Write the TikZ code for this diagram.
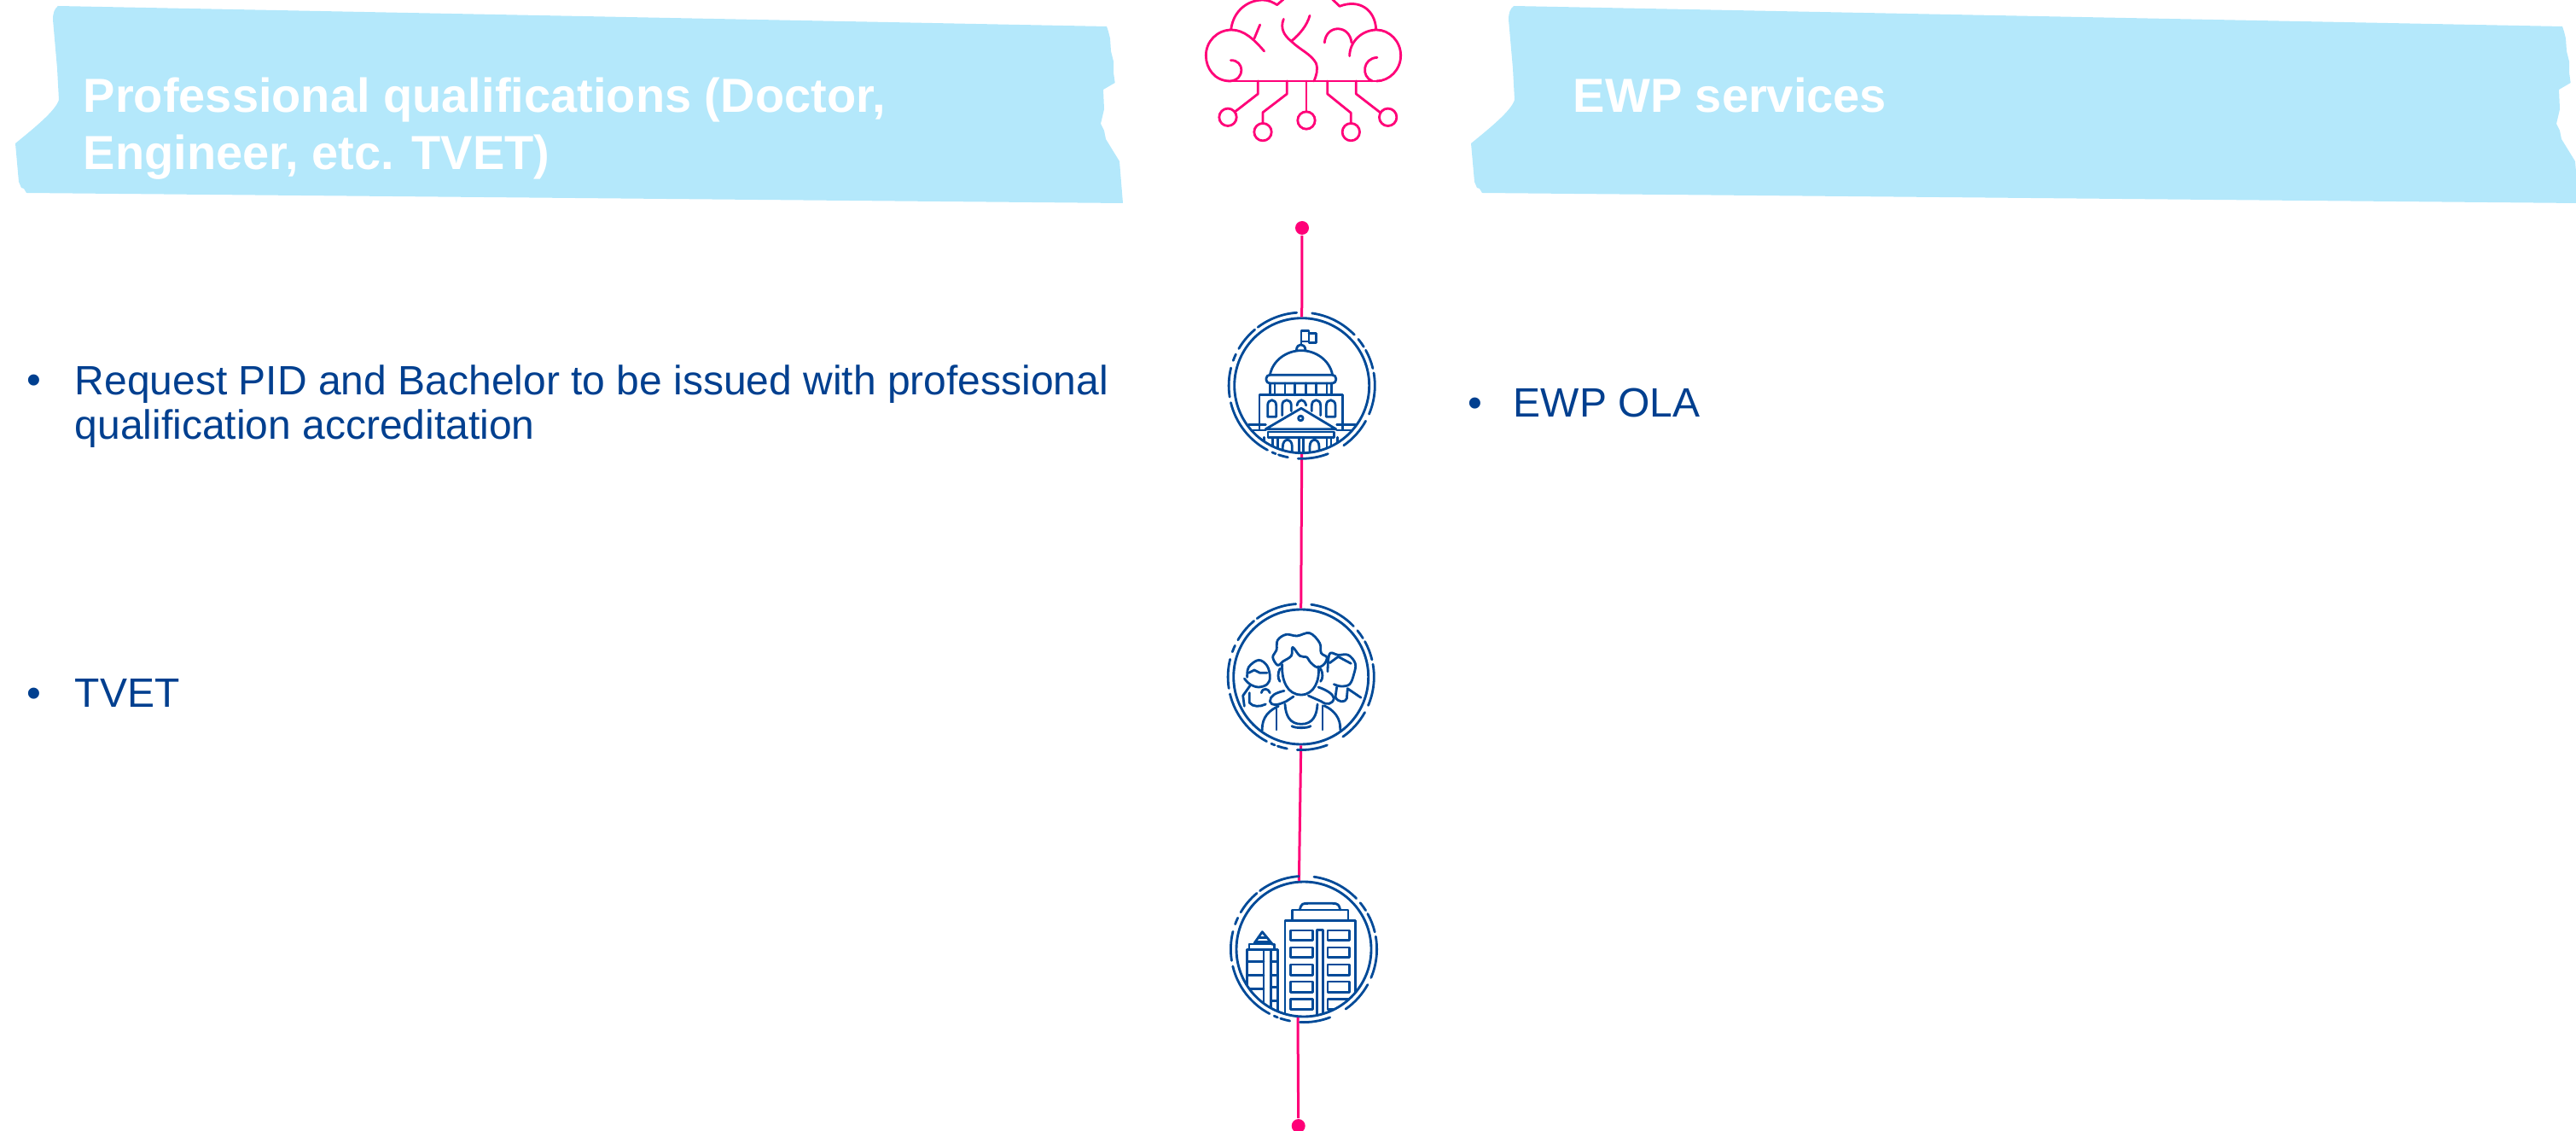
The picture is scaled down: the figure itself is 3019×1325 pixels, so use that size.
\documentclass[tikz,border=0pt]{standalone}
\usepackage{fontspec}
\setmainfont{Liberation Sans}
\definecolor{blob}{HTML}{B4E8FB}
\definecolor{pinkline}{HTML}{FF0078}
\definecolor{navy}{HTML}{004A98}
\definecolor{bodyblue}{HTML}{003F8F}
\tikzset{
  px/.style={x=0.25pt,y=-0.25pt},
  zoomgrid/.style={x=0.083333pt,y=-0.083333pt},
  titletext/.style={text=white,font=\fontsize{14}{16.75}\selectfont\bfseries,anchor=base west,inner sep=0pt,align=left},
  bodytext/.style={text=bodyblue,font=\fontsize{12}{13}\selectfont,anchor=base west,inner sep=0pt,align=left},
  iconcircle/.style={circle,draw=navy,line width=0.72pt,fill=white,minimum size=39.5pt,inner sep=0pt},
  enddot/.style={circle,fill=pinkline,minimum size=4pt,inner sep=0pt},
  timeline/.style={draw=pinkline,line width=0.75pt},
  iconline/.style={draw=navy,line width=0.7pt,line cap=round,line join=round},
  brainline/.style={draw=pinkline,line width=0.7pt,line cap=round,line join=round},
}
\newcommand{\blobpath}{(68,7) -- (1297,31) -- (1299,37) -- (1301,45) -- (1302,60) -- (1305,72) -- (1305,85) -- (1306.7,97) -- (1293,105) -- (1294,128) -- (1290,145) -- (1294,153) -- (1296,163) -- (1312,189) -- (1316,238) -- (31,226) -- (28,221) -- (25,220) -- (22,213) -- (18,168) .. controls (40,150) and (65,130) .. (69,117) -- (67,80) -- (62,23) .. controls (62,15) and (64,10) .. (68,7) -- cycle}
\newcommand{\iconring}[1]{%
  \foreach \a/\b in {82/44,39.4/32,29/13.6,10/-23,-29/-55,-69/-93,-101/-108.6,-111/-114,-118/-166.5,-171/-194,-200/-205.4,-210.3/-230,-233/-266}
    \draw[iconline] (#1) ++(\a:21.4pt) arc[start angle=\a,end angle=\b,radius=21.4pt];%
}
\begin{document}
\begin{tikzpicture}[px]
\useasboundingbox (0,0) rectangle (3019,1325);
\begin{scope}
\clip (0,0) rectangle (3019,1325);
\fill[blob] \blobpath;
\fill[blob,shift={(1706,0)}] \blobpath;

% brain
\begin{scope}[shift={(1380,0)},zoomgrid]
\draw[brainline] (185,285) .. controls (130,285) and (100,240) .. (100,195) .. controls (100,145) and (140,105) .. (190,105) .. controls (235,105) and (270,140) .. (305,180);
\draw[brainline] (188,105) .. controls (195,40) and (245,0) .. (300,0) .. controls (320,0) and (335,8) .. (350,17) -- (372,-2);
\draw[brainline] (545,-2) -- (570,22) .. controls (640,-5) and (695,35) .. (698,103);
\draw[brainline] (605,197) .. controls (605,145) and (650,105) .. (700,105) .. controls (745,105) and (785,145) .. (785,195) .. controls (785,245) and (745,285) .. (700,285);
\draw[brainline] (270,135) -- (290,87);
\draw[brainline] (187,212) .. controls (235,210) and (240,280) .. (185,285);
\draw[brainline] (373,67) .. controls (360,100) and (375,125) .. (400,145) .. controls (430,120) and (455,90) .. (465,55);
\draw[brainline] (400,145) .. controls (430,175) and (470,190) .. (487,222) .. controls (495,245) and (488,265) .. (480,285);
\draw[brainline] (517,150) .. controls (522,85) and (605,85) .. (612,150);
\draw[brainline] (702,202) .. controls (650,205) and (645,270) .. (685,285);
\draw[brainline] (185,285) -- (700,285);
\draw[brainline] (283,285) -- (283,330) -- (203,392);
\draw[brainline] (177,412) circle[radius=2.55pt];
\draw[brainline] (385,285) -- (385,330) -- (300,395) -- (300,435);
\draw[brainline] (300,464) circle[radius=2.55pt];
\draw[brainline] (453,285) -- (453,393);
\draw[brainline] (453,423) circle[radius=2.55pt];
\draw[brainline] (527,285) -- (527,330) -- (610,397) -- (610,435);
\draw[brainline] (610,464) circle[radius=2.55pt];
\draw[brainline] (628,285) -- (628,330) -- (712,395);
\draw[brainline] (740,412) circle[radius=2.55pt];
\end{scope}

% timeline
\node[enddot] (topdot) at (1526,267) {};
\node[iconcircle] (icona) at (1525.7,451.7) {};
\node[iconcircle] (iconb) at (1524.7,793) {};
\node[iconcircle] (iconc) at (1528,1112) {};
\node[enddot] (botdot) at (1521.7,1319) {};
\draw[timeline] (topdot) -- (icona.north);
\draw[timeline] (icona.south) -- (iconb.north);
\draw[timeline] (iconb.south) -- (iconc.94);
\draw[timeline] (iconc.-95) -- (botdot);
\iconring{icona}
\iconring{iconb}
\iconring{iconc}

% capitol
\begin{scope}
\clip (icona) circle[radius=19.6pt];
\begin{scope}[shift={(1420,350)},zoomgrid]
\draw[iconline] (315,160) -- (315,113) -- (342,113) -- (342,150) -- (318,150);
\draw[iconline] (342,122) -- (368,122) -- (368,155) -- (342,155) -- (342,150);
\draw[iconline] (298,180) .. controls (300,155) and (328,155) .. (330,180);
\draw[iconline] (205,268) .. controls (215,215) and (265,182) .. (315,182) .. controls (365,182) and (415,215) .. (425,268);
\draw[iconline,rounded corners=1pt] (192,268) rectangle (437,297);
\foreach \vx in {205,222,258,292,332,368,405,422} \draw[iconline] (\vx,297) -- (\vx,338);
\draw[iconline] (168,460) -- (168,338) -- (460,338) -- (460,460);
\draw[iconline] (197,415) -- (197,375) .. controls (197,350) and (227,350) .. (227,375) -- (227,415) -- cycle;
\draw[iconline] (403,415) -- (403,375) .. controls (403,350) and (435,350) .. (435,375) -- (435,415) -- cycle;
\draw[iconline] (248,410) -- (248,375) .. controls (248,350) and (280,350) .. (280,375) -- (280,395);
\draw[iconline] (352,395) -- (352,375) .. controls (352,350) and (383,350) .. (383,375) -- (383,410);
\draw[iconline] (300,375) .. controls (305,350) and (327,350) .. (332,375);
\draw[iconline] (190,458) -- (315,385) -- (437,458) -- cycle;
\draw[iconline] (313,420) circle[radius=0.7pt];
\draw[iconline] (130,442) -- (190,442);
\draw[iconline] (440,442) -- (505,442);
\draw[iconline] (130,462) -- (190,462);
\draw[iconline] (440,462) -- (505,462);
\draw[iconline] (198,468) rectangle (430,487);
\foreach \vx in {185,215,232,308,322,405,420,442} \draw[iconline] (\vx,487) -- (\vx,560);
\draw[iconline] (250,560) -- (250,520) .. controls (250,488) and (283,488) .. (283,520) -- (283,560);
\draw[iconline] (345,560) -- (345,520) .. controls (345,488) and (378,488) .. (378,520) -- (378,560);
\end{scope}
\end{scope}

% family
\begin{scope}
\clip (iconb) circle[radius=19.6pt];
\begin{scope}[shift={(1420,690)},zoomgrid]
\draw[iconline] plot[smooth cycle,tension=0.6] coordinates {(232,268) (215,240) (228,215) (232,180) (262,160) (300,165) (345,155) (380,190) (385,225) (405,240) (395,265) (370,275) (345,255) (335,240) (310,235) (285,205) (280,235) (250,255)};
\draw[iconline] (248,265) .. controls (245,320) and (265,372) .. (315,372) .. controls (360,372) and (382,320) .. (375,272);
\draw[iconline] (240,280) .. controls (232,295) and (232,315) .. (240,325);
\draw[iconline] (383,280) .. controls (392,295) and (392,315) .. (383,325);
\draw[iconline] (255,358) .. controls (225,365) and (205,375) .. (205,395) .. controls (210,412) and (230,410) .. (262,395) -- (288,378);
\draw[iconline] (340,375) -- (385,395) .. controls (405,410) and (425,405) .. (430,385) .. controls (428,370) and (405,355) .. (375,345);
\draw[iconline] (178,497) .. controls (175,450) and (205,425) .. (235,412);
\draw[iconline] (228,422) -- (228,495);
\draw[iconline] (258,405) .. controls (260,445) and (275,475) .. (315,475) .. controls (355,475) and (370,445) .. (372,405);
\draw[iconline] (390,410) -- (390,495);
\draw[iconline] (395,410) .. controls (430,425) and (455,455) .. (452,495);
\draw[iconline] (282,482) .. controls (295,490) and (335,490) .. (348,482);
% boy
\draw[iconline] plot[smooth,tension=0.6] coordinates {(408,290) (410,250) (418,225) (445,232) (480,232) (505,262) (500,300) (485,335) (455,342) (430,335)};
\draw[iconline] (415,260) -- (445,238) -- (490,262);
\draw[iconline] (440,345) -- (435,380) .. controls (445,400) and (470,400) .. (475,385) -- (478,350) -- (525,382);
% girl
\draw[iconline] plot[smooth,tension=0.6] coordinates {(125,310) (130,275) (165,250) (195,270) (205,310) (195,335) (165,345) (135,335) (115,315)};
\draw[iconline] (130,295) -- (150,285) -- (170,295) -- (195,295);
\draw[iconline] (135,340) -- (110,375) -- (115,412);
\draw[iconline] (133,365) -- (133,400) .. controls (145,415) and (170,415) .. (190,405);
\draw[iconline] (175,365) .. controls (180,345) and (200,350) .. (205,365);
\end{scope}
\end{scope}

% city
\begin{scope}
\clip (iconc) circle[radius=19.6pt];
\begin{scope}[shift={(1420,1010)},zoomgrid]
\draw[iconline] (258,560) -- (258,205) -- (505,205) -- (505,560);
\draw[iconline] (283,205) -- (283,168) -- (480,168) -- (480,205);
\draw[iconline] (310,168) .. controls (315,145) and (320,145) .. (340,145) -- (425,145) .. controls (445,145) and (448,150) .. (452,168);
\foreach \wy/\wz in {240/275,300/335,360/397,420/457,482/517} {
  \draw[iconline] (278,\wy) rectangle (355,\wz);
  \draw[iconline] (408,\wy) rectangle (485,\wz);
}
\draw[iconline] (370,560) -- (370,238) -- (392,238) -- (392,560);
\draw[iconline] (125,560) -- (125,308) -- (232,308) -- (232,560);
\draw[iconline] (132,305) -- (132,288) -- (220,288) -- (220,305);
\draw[iconline] (150,285) -- (178,245) -- (215,290);
\draw[iconline] (165,265) -- (192,265);
\draw[iconline] (155,280) -- (205,280);
\draw[iconline] (183,308) -- (183,540);
\draw[iconline] (208,308) -- (208,540);
\foreach \hy in {350,398,445} \draw[iconline] (125,\hy) -- (183,\hy);
\foreach \hy in {350,398,440,488} \draw[iconline] (208,\hy) -- (232,\hy);
\end{scope}
\end{scope}
\end{scope}

% titles
\node[titletext] (titleleft) at (97,199) {Professional qualifications (Doctor,\\Engineer, etc. TVET)};
\node[titletext] (titleright) at (1843,132) {EWP services};

% body
\node[bodytext] (bulleta) at (31,462) {•};
\node[bodytext] (bodya) at (87,514) {Request PID and Bachelor to be issued with professional\\qualification accreditation};
\node[bodytext] (bulletb) at (31,828) {•};
\node[bodytext] (bodyb) at (87,828) {TVET};
\node[bodytext] (bulletc) at (1720,489) {•};
\node[bodytext] (bodyc) at (1773,489) {EWP OLA};
\end{tikzpicture}
\end{document}
